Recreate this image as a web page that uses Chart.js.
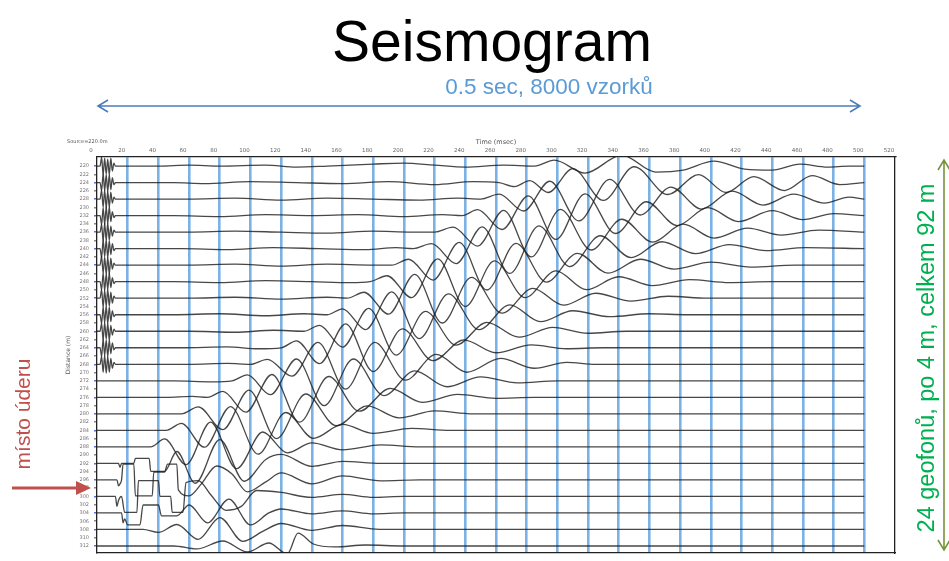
<!DOCTYPE html>
<html>
<head>
<meta charset="utf-8">
<script src="https://cdn.jsdelivr.net/npm/chart.js@4/dist/chart.umd.min.js"></script>
<style>
  html, body { margin: 0; padding: 0; background: #fff; }
  #wrap { position: relative; width: 949px; height: 561px; }
</style>
</head>
<body>
<div id="wrap"><canvas id="c" width="949" height="561"></canvas></div>
<script>
// Time axis (ms) and geophone offsets (m)
const timeTicks = [0,20,40,60,80,100,120,140,160,180,200,220,240,260,280,300,320,340,360,380,400,420,440,460,480,500,520];
const offsetLabels = [220,222,224,226,228,230,232,234,236,238,240,242,244,246,248,250,252,254,256,258,260,262,264,266,268,270,272,274,276,278,280,282,284,286,288,290,292,294,296,298,300,302,304,306,308,310,312];
const geophoneOffsets = [220,224,228,232,236,240,244,248,252,256,260,264,268,272,276,280,284,288,292,296,300,304,308,312];

// Picked trace samples: [time ms, amplitude counts], positive = up
const trace00 = [[0,0],[2,0],[3,9],[4,-9],[5,8],[6,-8],[7,7],[8,-9],[9,8],[10,-5],[11,3],[12,0],[40,0],[60,1],[80,0],[110,1],[130,-1],[150,0],[180,2],[200,3],[220,1],[240,-1],[265,1],[285,0],[298,6],[318,-7],[342,11],[364,-6],[382,-4],[402,5],[422,-3],[440,-4],[458,2],[476,-1],[490,0],[500,0]];
const trace01 = [[0,0],[2,0],[3,-8],[4,9],[5,-8],[6,8],[7,-9],[8,8],[9,-7],[10,5],[11,-2],[12,0],[50,0],[70,-1],[100,1],[130,0],[160,-1],[190,1],[220,-2],[245,1],[262,0],[272,-4],[282,2],[294,-10],[310,14],[330,-18],[350,16],[372,-12],[392,8],[410,-10],[428,6],[448,-8],[466,7],[484,-2],[500,0]];
const trace02 = [[0,0],[2,0],[3,9],[4,-8],[5,9],[6,-9],[7,8],[8,-8],[9,7],[10,-4],[11,2],[12,0],[60,0],[90,1],[120,-1],[150,1],[180,0],[210,-1],[235,1],[250,0],[262,5],[278,-12],[295,18],[314,-22],[334,20],[354,-16],[374,12],[394,-10],[414,8],[434,-6],[454,5],[474,-4],[490,2],[500,0]];
const trace03 = [[0,0],[2,0],[3,-9],[4,8],[5,-9],[6,9],[7,-8],[8,9],[9,-6],[10,4],[11,-2],[12,0],[50,0],[80,-1],[110,1],[140,0],[170,1],[200,-1],[225,1],[238,0],[248,6],[264,-14],[281,20],[299,-24],[318,22],[338,-18],[358,14],[378,-10],[398,8],[418,-6],[440,5],[460,-4],[480,2],[500,0]];
const trace04 = [[0,0],[2,0],[3,8],[4,-9],[5,9],[6,-8],[7,9],[8,-8],[9,6],[10,-4],[11,2],[12,0],[60,0],[90,1],[120,0],[150,-1],[180,1],[205,0],[220,0],[232,5],[248,-14],[265,22],[283,-25],[302,23],[322,-18],[342,13],[362,-10],[382,8],[402,-6],[424,4],[446,-3],[470,2],[500,0]];
const trace05 = [[0,0],[2,0],[3,-9],[4,9],[5,-8],[6,9],[7,-9],[8,8],[9,-6],[10,5],[11,-2],[12,0],[55,0],[85,-1],[115,1],[145,0],[175,-1],[195,1],[206,0],[218,5],[234,-15],[251,22],[269,-25],[288,23],[308,-18],[328,13],[348,-9],[368,7],[390,-5],[412,4],[436,-2],[462,1],[500,0]];
const trace06 = [[0,0],[2,0],[3,9],[4,-8],[5,8],[6,-9],[7,8],[8,-9],[9,7],[10,-4],[11,2],[12,0],[60,0],[90,1],[120,-1],[150,1],[180,0],[192,0],[203,6],[219,-15],[236,23],[254,-25],[273,22],[293,-17],[313,12],[333,-8],[354,6],[376,-4],[400,3],[426,-2],[455,0],[500,0]];
const trace07 = [[0,0],[2,0],[3,-8],[4,9],[5,-9],[6,8],[7,-8],[8,9],[9,-6],[10,4],[11,-2],[12,0],[50,0],[80,-1],[110,1],[140,0],[165,-1],[178,0],[189,6],[205,-16],[222,23],[240,-25],[259,21],[279,-16],[299,11],[319,-8],[340,5],[362,-4],[386,2],[412,-1],[440,0],[500,0]];
const trace08 = [[0,0],[2,0],[3,9],[4,-9],[5,8],[6,-8],[7,9],[8,-8],[9,6],[10,-5],[11,2],[12,0],[60,0],[90,1],[120,-1],[150,1],[163,0],[174,6],[190,-16],[207,24],[225,-25],[244,21],[264,-15],[284,10],[304,-7],[325,5],[348,-3],[372,2],[398,0],[500,0]];
const trace09 = [[0,0],[2,0],[3,-9],[4,8],[5,-8],[6,9],[7,-9],[8,8],[9,-7],[10,4],[11,-2],[12,0],[50,0],[80,1],[110,-1],[135,1],[150,0],[160,6],[175,-15],[192,23],[210,-24],[229,21],[249,-15],[269,10],[289,-7],[310,4],[334,-2],[360,1],[385,0],[500,0]];
const trace10 = [[0,0],[2,0],[3,8],[4,-9],[5,9],[6,-8],[7,8],[8,-9],[9,6],[10,-4],[11,2],[12,0],[60,0],[90,-1],[115,1],[135,0],[145,6],[160,-16],[177,23],[195,-24],[214,20],[234,-14],[254,9],[275,-6],[297,4],[320,-2],[345,0],[500,0]];
const trace11 = [[0,0],[2,0],[3,-9],[4,9],[5,-8],[6,8],[7,-9],[8,8],[9,-6],[10,5],[11,-2],[12,0],[55,0],[85,1],[105,-1],[120,0],[130,7],[145,-16],[162,24],[180,-24],[199,19],[219,-13],[239,8],[260,-5],[283,3],[306,-1],[330,0],[500,0]];
const trace12 = [[0,0],[2,0],[3,8],[4,-8],[5,9],[6,-9],[7,8],[8,-8],[9,6],[10,-4],[11,2],[12,0],[60,0],[85,1],[100,0],[111,5],[127,-12],[144,22],[162,-25],[181,22],[201,-16],[221,10],[241,-8],[263,6],[285,-4],[306,2],[325,0],[500,0]];
const trace13 = [[0,0],[50,0],[75,-1],[88,0],[98,6],[113,-14],[130,22],[148,-25],[167,22],[187,-15],[207,10],[228,-6],[250,4],[274,-2],[300,0],[500,0]];
const trace14 = [[0,0],[45,0],[62,1],[72,0],[82,6],[97,-15],[114,23],[132,-25],[151,21],[171,-14],[191,9],[212,-5],[235,3],[260,-1],[285,0],[500,0]];
const trace15 = [[0,0],[40,0],[55,0],[66,7],[82,-16],[99,24],[117,-25],[136,20],[156,-12],[176,8],[197,-4],[220,3],[245,0],[500,0]];
const trace16 = [[0,0],[35,0],[45,0],[55,7],[70,-17],[87,24],[105,-24],[123,18],[141,-8],[160,6],[180,-3],[205,2],[230,0],[500,0]];
const trace17 = [[0,0],[28,0],[35,0],[44,8],[58,-18],[74,25],[91,-22],[108,15],[124,-6],[140,4],[160,-3],[185,2],[210,0],[500,0]];
const trace18 = [[0,0],[14,0],[15,-4],[16,0],[24,0],[25,5],[34,5],[35,-8],[44,-8],[52,12],[64,-20],[80,24],[96,-18],[110,4],[120,9],[140,-3],[160,2],[185,0],[500,0]];
const trace19 = [[0,0],[13,0],[14,-6],[15,-4],[16,0],[17,16],[24,16],[25,-16],[36,-16],[37,8],[44,8],[46,16],[52,16],[53,-10],[60,-16],[68,-4],[78,14],[88,6],[98,-12],[110,-2],[120,7],[140,-4],[160,4],[185,-1],[210,0],[500,0]];
const trace20 = [[0,0],[12,0],[13,-10],[14,-4],[16,0],[18,-16],[26,-16],[27,16],[40,16],[41,0],[48,0],[49,-16],[56,-16],[58,14],[66,16],[74,2],[84,-14],[94,-10],[104,6],[120,4],[140,-1],[160,2],[180,-1],[200,0],[500,0]];
const trace21 = [[0,0],[16,0],[17,-10],[18,-6],[20,-12],[28,-12],[30,8],[40,8],[42,-3],[52,-3],[60,8],[72,-10],[86,14],[100,-12],[112,0],[120,4],[140,-1],[160,2],[180,-1],[200,0],[500,0]];
const trace22 = [[0,0],[30,0],[40,-3],[52,5],[66,-10],[80,12],[95,-12],[108,-2],[120,6],[140,-1],[160,4],[184,0],[500,0]];
const trace23 = [[0,0],[50,0],[65,-3],[82,5],[98,-6],[112,3],[124,-8],[131,13],[141,2],[155,-1],[175,1],[200,0],[500,0]];

const traces = [trace00,trace01,trace02,trace03,trace04,trace05,trace06,trace07,trace08,trace09,trace10,trace11,
                trace12,trace13,trace14,trace15,trace16,trace17,trace18,trace19,trace20,trace21,trace22,trace23];

// display gain: counts -> metres of trace offset (one trace spacing ~ 16.65 counts)
const GAIN = 4 / 16.65;

const datasets = traces.map((tr, i) => ({
  label: geophoneOffsets[i] + ' m',
  data: tr.map(([t, a]) => ({ x: t, y: geophoneOffsets[i] - a * GAIN })),
  borderColor: 'rgba(30,30,30,0.82)',
  borderWidth: 1.3,
  pointRadius: 0,
  showLine: true,
  fill: false,
  cubicInterpolationMode: 'monotone'
}));

// arrows and slide annotations around the seismogram
const annotations = {
  id: 'annotations',
  afterDraw(chart) {
    const ctx = chart.ctx;
    ctx.save();
    // time span arrow
    ctx.strokeStyle = '#4a7ebb';
    ctx.lineWidth = 1.6;
    ctx.beginPath();
    ctx.moveTo(98, 106); ctx.lineTo(860, 106);
    ctx.moveTo(108, 100); ctx.lineTo(98, 106); ctx.lineTo(108, 112);
    ctx.moveTo(850, 100); ctx.lineTo(860, 106); ctx.lineTo(850, 112);
    ctx.stroke();
    ctx.fillStyle = '#5b9bd5';
    ctx.font = '22.5px "Liberation Sans", Arial, sans-serif';
    ctx.textAlign = 'center';
    ctx.textBaseline = 'middle';
    ctx.fillText('0.5 sec, 8000 vzorků', 549, 88);

    // geophone spread arrow
    ctx.strokeStyle = '#77933c';
    ctx.lineWidth = 1.6;
    ctx.beginPath();
    ctx.moveTo(944, 160); ctx.lineTo(944, 550);
    ctx.moveTo(938, 170); ctx.lineTo(944, 160); ctx.lineTo(950, 170);
    ctx.moveTo(938, 540); ctx.lineTo(944, 550); ctx.lineTo(950, 540);
    ctx.stroke();
    ctx.save();
    ctx.translate(928, 358);
    ctx.rotate(-Math.PI / 2);
    ctx.fillStyle = '#00b050';
    ctx.font = '23.5px "Liberation Sans", Arial, sans-serif';
    ctx.fillText('24 geofonů, po 4 m, celkem 92 m', 0, 0);
    ctx.restore();

    // shot point arrow
    ctx.strokeStyle = '#c0504d';
    ctx.fillStyle = '#c0504d';
    ctx.lineWidth = 3;
    ctx.beginPath();
    ctx.moveTo(12, 488); ctx.lineTo(78, 488);
    ctx.stroke();
    ctx.beginPath();
    ctx.moveTo(76, 481); ctx.lineTo(91, 488); ctx.lineTo(76, 495); ctx.closePath();
    ctx.fill();
    ctx.save();
    ctx.translate(24, 414);
    ctx.rotate(-Math.PI / 2);
    ctx.font = '21px "Liberation Sans", Arial, sans-serif';
    ctx.fillText('místo úderu', 0, 0);
    ctx.restore();

    // record header
    ctx.fillStyle = '#555';
    ctx.font = '5px "DejaVu Sans", sans-serif';
    ctx.textAlign = 'left';
    ctx.fillText('Source=220.0m', 67, 142);
    ctx.restore();
  }
};

new Chart(document.getElementById('c'), {
  type: 'scatter',
  data: { datasets },
  plugins: [annotations],
  options: {
    responsive: false,
    animation: false,
    events: [],
    layout: { padding: { left: 65, right: 30, top: 0, bottom: 5 } },
    plugins: {
      legend: { display: false },
      tooltip: { enabled: false },
      title: {
        display: true,
        text: 'Seismogram',
        color: '#000',
        font: { family: '"Liberation Sans", Arial, sans-serif', size: 57, weight: 'normal', lineHeight: 1 },
        padding: { top: 17, bottom: 61 }
      }
    },
    scales: {
      x: {
        type: 'linear',
        position: 'top',
        min: 0, max: 520,
        afterFit(s) { s.height = 22; },
        afterBuildTicks(s) { s.ticks = timeTicks.map(v => ({ value: v })); },
        ticks: {
          color: '#666',
          font: { size: 5.5, family: '"DejaVu Sans", sans-serif' },
          labelOffset: -6,
          padding: 3,
          maxRotation: 0,
          autoSkip: false
        },
        title: { display: true, text: 'Time (msec)', color: '#555', font: { size: 6.5, family: '"DejaVu Sans", sans-serif' }, padding: { top: 3, bottom: 0 } },
        grid: {
          color: c => (c.tick && (c.tick.value === 0 || c.tick.value === 520)) ? 'rgba(0,0,0,0)' : 'rgba(100,165,225,0.85)',
          lineWidth: 2.6,
          drawTicks: false
        },
        border: { display: true, color: '#222', width: 1.3 }
      },
      xb: {
        type: 'linear',
        position: 'bottom',
        min: 0, max: 520,
        afterFit(s) { s.height = 0; },
        ticks: { display: false },
        grid: { display: false },
        border: { display: true, color: '#222', width: 1.3 }
      },
      y: {
        type: 'linear',
        reverse: true,
        min: 217.8, max: 313.7,
        afterFit(s) { s.width = 32; },
        afterBuildTicks(s) { s.ticks = offsetLabels.map(v => ({ value: v })); },
        ticks: {
          color: '#777',
          font: { size: 5, family: '"DejaVu Sans", sans-serif' },
          padding: 5,
          autoSkip: false
        },
        title: { display: true, text: 'Distance (m)', color: '#555', font: { size: 6, family: '"DejaVu Sans", sans-serif' }, padding: 0 },
        grid: {
          drawOnChartArea: false,
          drawTicks: true,
          tickLength: 3,
          lineWidth: 1.5,
          color: c => (c.tick && geophoneOffsets.includes(c.tick.value)) ? '#5b6fe0' : '#888'
        },
        border: { display: true, color: '#222', width: 1.3 }
      },
      yr: {
        type: 'linear',
        position: 'right',
        reverse: true,
        min: 217.8, max: 313.7,
        afterFit(s) { s.width = 24; },
        afterBuildTicks(s) { s.ticks = geophoneOffsets.map(v => ({ value: v })); },
        ticks: { display: false },
        grid: { drawOnChartArea: false, drawTicks: false },
        border: { display: true, color: '#222', width: 1.3 }
      }
    }
  }
});
</script>
</body>
</html>
